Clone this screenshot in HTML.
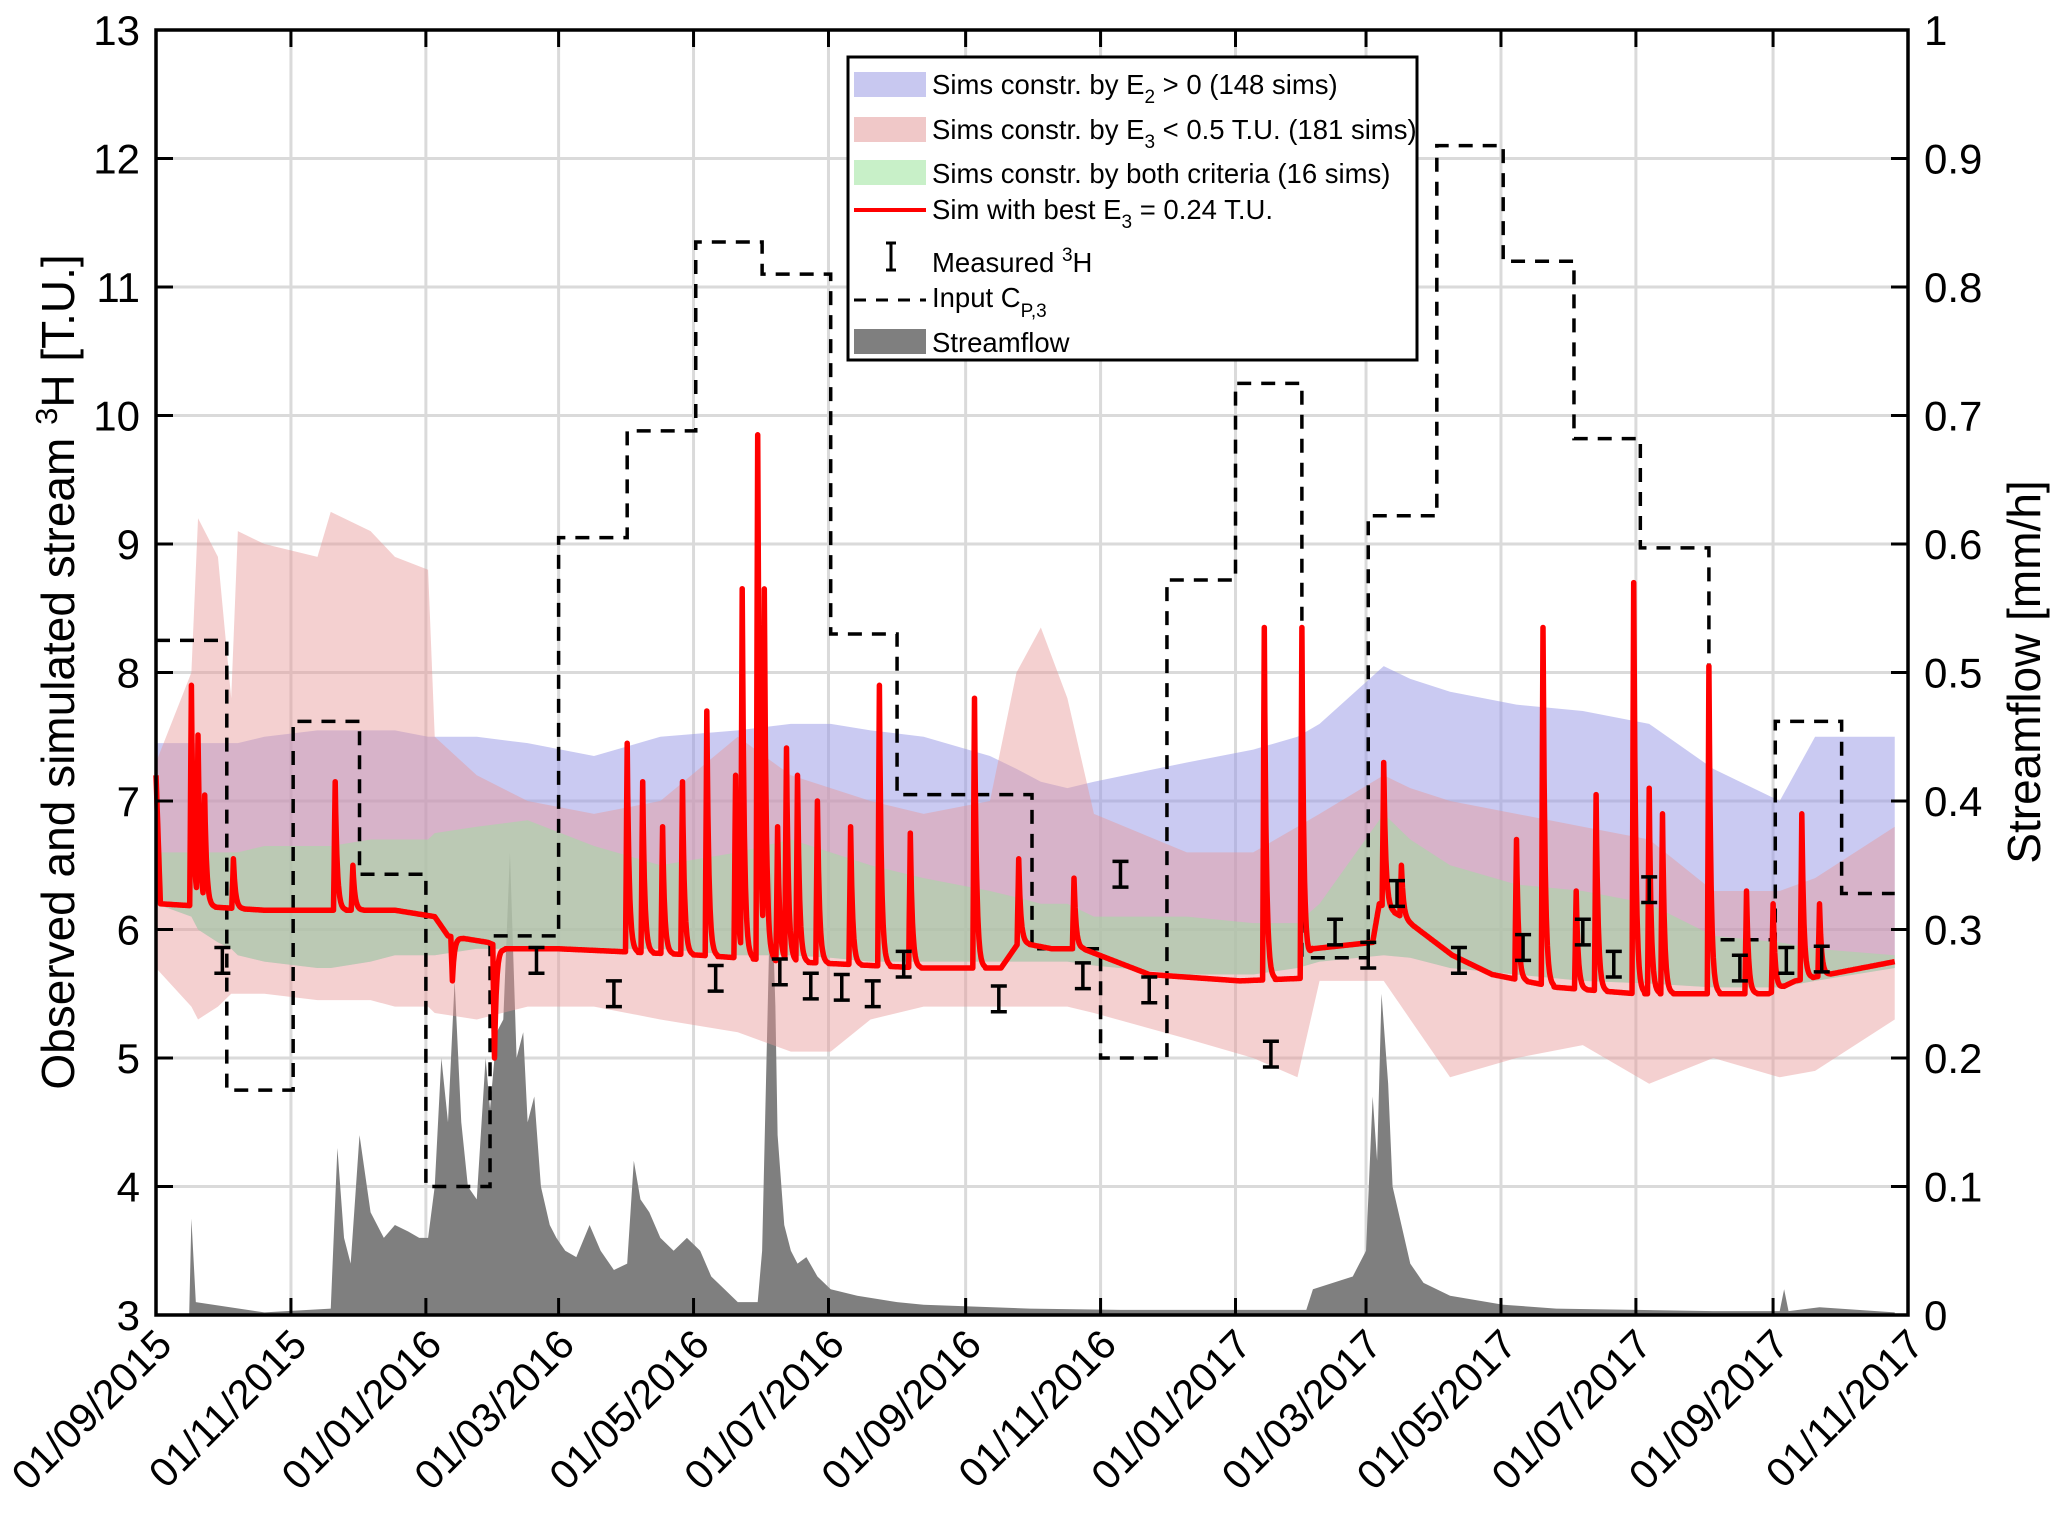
<!DOCTYPE html>
<html><head><meta charset="utf-8"><style>
html,body{margin:0;padding:0;background:#fff}
svg{display:block;font-family:"Liberation Sans",Arial,sans-serif}
</style></head><body>
<svg id="chart" width="2067" height="1528" viewBox="0 0 2067 1528" xmlns="http://www.w3.org/2000/svg">
<g id="grid"></g>
<g id="flow"></g>
<g id="bands"></g>
<g id="input"></g>
<g id="red"></g>
<g id="meas"></g>
<g id="axes"></g>
<text transform="translate(74,672) rotate(-90)" text-anchor="middle" font-size="46">Observed and simulated stream <tspan font-size="31" dy="-17">3</tspan><tspan dy="17">H [T.U.]</tspan></text>
<text transform="translate(2040,672) rotate(-90)" text-anchor="middle" font-size="46">Streamflow [mm/h]</text>
<g id="legend">
<rect x="848" y="57" width="569" height="303" fill="#fff" stroke="#000" stroke-width="3"/>
<rect x="854" y="72" width="72" height="25" fill="#c8c8f0"/>
<text x="932" y="94" font-size="27.5">Sims constr. by E<tspan font-size="19" dy="9">2</tspan><tspan dy="-9"> &gt; 0 (148 sims)</tspan></text>
<rect x="854" y="117" width="72" height="25" fill="#f0c8c8"/>
<text x="932" y="139" font-size="27.5">Sims constr. by E<tspan font-size="19" dy="9">3</tspan><tspan dy="-9"> &lt; 0.5 T.U. (181 sims)</tspan></text>
<rect x="854" y="160" width="72" height="25" fill="#c8f0c8"/>
<text x="932" y="183" font-size="27.5">Sims constr. by both criteria (16 sims)</text>
<line x1="854" y1="210" x2="926" y2="210" stroke="#f00" stroke-width="4"/>
<text x="932" y="219" font-size="27.5">Sim with best E<tspan font-size="19" dy="9">3</tspan><tspan dy="-9"> = 0.24 T.U.</tspan></text>
<path d="M886,243 H896 M891,243 V270 M886,270 H896" stroke="#000" stroke-width="3" fill="none"/>
<text x="932" y="272" font-size="27.5">Measured <tspan font-size="19" dy="-11">3</tspan><tspan dy="11">H</tspan></text>
<line x1="854" y1="300" x2="926" y2="300" stroke="#000" stroke-width="3" stroke-dasharray="12,10"/>
<text x="932" y="307" font-size="27.5">Input C<tspan font-size="19" dy="10">P,3</tspan></text>
<rect x="854" y="329" width="72" height="25" fill="#7f7f7f"/>
<text x="932" y="352" font-size="27.5">Streamflow</text>
</g>
</svg>
<script>
// ---- data (x in days since 01/09/2015) ----
const tickLabels = ["01/09/2015","01/11/2015","01/01/2016","01/03/2016","01/05/2016","01/07/2016","01/09/2016","01/11/2016","01/01/2017","01/03/2017","01/05/2017","01/07/2017","01/09/2017","01/11/2017"];
const tickDays = [0,61,122,182,243,304,366,427,488,547,608,669,731,792];
const yTicks = [3,4,5,6,7,8,9,10,11,12,13];
const y2Ticks = [0,0.1,0.2,0.3,0.4,0.5,0.6,0.7,0.8,0.9,1];
const bandDays = [0,16,19,28,34,37,49,73,79,97,108,123,126,145,168,198,228,263,287,305,323,347,377,389,400,412,424,466,496,516,526,555,567,585,615,645,675,704,734,750,786];
const pinkUpper = [7.3,8.0,9.2,8.9,7.8,9.1,9.0,8.9,9.25,9.1,8.9,8.8,7.5,7.2,7.0,6.9,7.0,7.5,7.2,7.1,7.0,6.9,7.0,8.0,8.35,7.8,6.9,6.6,6.6,6.8,6.9,7.2,7.1,7.0,6.9,6.8,6.7,6.3,6.3,6.4,6.8];
const pinkLower = [5.7,5.4,5.3,5.4,5.5,5.5,5.5,5.45,5.45,5.45,5.4,5.4,5.35,5.3,5.4,5.4,5.3,5.2,5.05,5.05,5.3,5.4,5.4,5.4,5.4,5.4,5.35,5.15,5.0,4.85,5.6,5.6,5.3,4.85,5.0,5.1,4.8,5.0,4.85,4.9,5.3];
const blueUpper = [7.45,7.45,7.45,7.45,7.45,7.45,7.5,7.55,7.55,7.55,7.55,7.5,7.5,7.5,7.45,7.35,7.5,7.55,7.6,7.6,7.55,7.5,7.35,7.25,7.15,7.1,7.15,7.3,7.4,7.5,7.6,8.05,7.95,7.85,7.75,7.7,7.6,7.25,7.0,7.5,7.5];
const greenUpper = [6.6,6.6,6.6,6.6,6.6,6.6,6.65,6.65,6.65,6.7,6.7,6.7,6.75,6.8,6.85,6.65,6.5,6.6,6.7,6.6,6.5,6.4,6.3,6.25,6.2,6.2,6.1,6.1,6.05,6.05,6.2,6.9,6.7,6.5,6.35,6.3,6.2,5.95,5.9,5.85,5.8];
const greenLower = [6.2,6.1,6.0,5.9,5.85,5.8,5.75,5.7,5.7,5.75,5.8,5.8,5.8,5.85,5.85,5.85,5.85,5.8,5.8,5.78,5.75,5.75,5.75,5.75,5.75,5.75,5.72,5.65,5.65,5.7,5.75,5.8,5.78,5.7,5.65,5.6,5.58,5.55,5.55,5.6,5.7];
const inputDays = [0,32,62,92,122,151,182,213,244,274,305,335,396,427,457,488,518,548,579,609,641,671,702,732,762,786];
const inputValues = [8.25,4.75,7.62,6.43,4.0,5.95,9.05,9.88,11.35,11.1,8.3,7.05,5.85,5.0,8.72,10.25,5.78,9.22,12.1,11.2,9.82,8.97,5.92,7.62,6.28];
const measDays = [30,172,207,253,282,296,310,324,338,381,419,436,449,504,533,548,561,589,618,645,659,675,716,737,753];
const measValues = [5.76,5.76,5.5,5.62,5.67,5.56,5.55,5.5,5.73,5.46,5.64,6.43,5.53,5.03,5.98,5.8,6.28,5.76,5.86,5.98,5.73,6.31,5.7,5.76,5.77];
const measErr = 0.1;
const baseDays = [0,2,49,108,126,132,150,157,182,246,287,347,382,390,405,419,449,490,518,523,550,553,563,586,604,633,669,729,741,786];
const baseValues = [7.2,6.2,6.15,6.15,6.1,5.95,5.9,5.85,5.85,5.8,5.75,5.7,5.7,5.9,5.85,5.85,5.65,5.6,5.62,5.85,5.9,6.2,6.1,5.8,5.65,5.55,5.5,5.5,5.6,5.75];
const spikeDays = [16,19,22,35,81,89,134,153,213,220,229,238,249,262,265,272,275,281,285,290,299,314,327,341,370,390,415,501,518,555,563,615,627,642,651,668,675,681,702,719,731,744,752];
const spikePeaks = [7.9,7.45,7.0,6.55,7.15,6.5,5.6,5.0,7.45,7.15,6.8,7.15,7.7,7.2,8.6,9.85,8.5,6.8,7.4,7.2,7.0,6.8,7.9,6.75,7.8,6.55,6.4,8.35,8.35,7.3,6.5,6.7,8.35,6.3,7.05,8.7,7.1,6.9,8.05,6.3,6.2,6.9,6.2];
const flowDays = [0,15,16,18,49,79,82,85,88,92,97,103,108,114,119,123,126,129,132,135,138,141,145,149,151,154,157,160,163,166,168,171,174,178,181,185,190,196,201,207,213,216,219,223,228,234,240,246,251,257,263,272,274,276,278,280,281,284,287,290,294,299,305,317,335,347,395,436,520,523,532,541,547,550,552,554,557,559,563,567,573,585,609,633,704,734,736,738,752,786];
const flowValues = [0,0,0.075,0.01,0.002,0.005,0.13,0.06,0.04,0.14,0.08,0.06,0.07,0.065,0.06,0.06,0.1,0.2,0.15,0.26,0.15,0.1,0.09,0.2,0.16,0.22,0.23,0.36,0.2,0.22,0.15,0.17,0.1,0.07,0.06,0.05,0.045,0.07,0.05,0.035,0.04,0.12,0.09,0.08,0.06,0.05,0.06,0.05,0.03,0.02,0.01,0.01,0.05,0.2,0.35,0.24,0.14,0.07,0.05,0.04,0.045,0.03,0.02,0.015,0.01,0.008,0.005,0.004,0.004,0.02,0.025,0.03,0.05,0.17,0.12,0.25,0.18,0.1,0.07,0.04,0.025,0.015,0.008,0.005,0.003,0.003,0.02,0.003,0.006,0.002];

// ---- axes ----
const L=156,R=1908,T=30,B=1315,TOTAL=792;
const X=d=>L+d*(R-L)/TOTAL;
const Y=v=>T+(13-v)*(B-T)/10;
const Y2=f=>B-f*(B-T);
const NS="http://www.w3.org/2000/svg";
function mk(parent,tag,attrs){const e=document.createElementNS(NS,tag);for(const k in attrs)e.setAttribute(k,attrs[k]);document.getElementById(parent).appendChild(e);return e;}

tickDays.forEach((d,i)=>{
  const g=mk('grid','line',{x1:X(d),x2:X(d),y1:T,y2:B,stroke:'#dadada','stroke-width':3});
  
  
  const t=mk('axes','line',{x1:X(d),x2:X(d),y1:B,y2:B-17,stroke:'#000','stroke-width':3});
  
  
  const t2=mk('axes','line',{x1:X(d),x2:X(d),y1:T,y2:T+17,stroke:'#000','stroke-width':3});
  
  
  const lb=mk('axes','text',{x:0,y:0,'font-size':41,'text-anchor':'end',transform:`translate(${X(d)+18},${B+32}) rotate(-45)`});
  lb.textContent=tickLabels[i];
  
  
});
yTicks.forEach((v,i)=>{
  const y=Y(v);
  const g=mk('grid','line',{x1:L,x2:R,y1:y,y2:y,stroke:'#dadada','stroke-width':3});
  
  
  const t=mk('axes','line',{x1:L,x2:L+17,y1:y,y2:y,stroke:'#000','stroke-width':3});
  
  
  const lb=mk('axes','text',{x:L-16,y:y+15,'font-size':42,'text-anchor':'end'});
  lb.textContent=v;
  
  
});
y2Ticks.forEach(f=>{
  const y=Y2(f);
  const t=mk('axes','line',{x1:R-17,x2:R,y1:y,y2:y,stroke:'#000','stroke-width':3});
  
  
  const lb=mk('axes','text',{x:R+16,y:y+15,'font-size':42,'text-anchor':'start'});
  lb.textContent=String(f);
  
  
});
const frame=mk('axes','rect',{x:L,y:T,width:R-L,height:B-T,fill:'none',stroke:'#000','stroke-width':3.5});



// ---- streamflow ----
let fp=`M${X(flowDays[0])},${Y2(0)}`;
flowDays.forEach((d,i)=>{fp+=` L${X(d)},${Y2(flowValues[i])}`;});
fp+=` L${X(flowDays[flowDays.length-1])},${Y2(0)} Z`;
const fl=mk('flow','path',{d:fp,fill:'#7f7f7f'});



// ---- bands ----
function band(up,lo,fill,op,name){
  let p='';
  bandDays.forEach((d,i)=>{p+=(i?' L':'M')+X(d)+','+Y(up[i]);});
  for(let i=bandDays.length-1;i>=0;i--)p+=' L'+X(bandDays[i])+','+Y(lo[i]);
  const e=mk('bands','path',{d:p+' Z',fill:fill,'fill-opacity':op});
  
  
}
band(blueUpper,greenLower,'#9696e6',0.5,'band-e2');
band(pinkUpper,pinkLower,'#e69696',0.45,'band-e3');
band(greenUpper,greenLower,'#a0e0a0',0.5,'band-both');

// ---- input step ----
let ip='';
inputValues.forEach((v,i)=>{ip+=(i?' L':'M')+X(inputDays[i])+','+Y(v)+' L'+X(inputDays[i+1])+','+Y(v);});
const inp=mk('input','path',{d:ip,fill:'none',stroke:'#000','stroke-width':3.5,'stroke-dasharray':'14,10'});



// ---- best sim ----
function base(d){for(let i=1;i<baseDays.length;i++){if(d<=baseDays[i]){const t=(d-baseDays[i-1])/(baseDays[i]-baseDays[i-1]);return baseValues[i-1]+t*(baseValues[i]-baseValues[i-1]);}}return baseValues[baseValues.length-1];}
let rp='';
for(let d=0;d<=786;d+=0.25){
  let v=base(d);
  spikeDays.forEach((s,i)=>{const a=spikePeaks[i]-base(s);let f=0;
    if(d>=s-0.75&&d<=s)f=1-(s-d)/0.75; else if(d>s&&d<s+5)f=Math.exp(-(d-s)*1.1);
    v+=a*f;});
  rp+=(d?' L':'M')+X(d).toFixed(1)+','+Y(v).toFixed(1);
}
const rl=mk('red','path',{d:rp,fill:'none',stroke:'#f00','stroke-width':5.5,'stroke-linejoin':'round'});



// ---- measured ----
measDays.forEach((d,i)=>{
  const x=X(d),y1=Y(measValues[i]+measErr),y2=Y(measValues[i]-measErr);
  const e=mk('meas','path',{d:`M${x-8},${y1} H${x+8} M${x},${y1} V${y2} M${x-8},${y2} H${x+8}`,stroke:'#000','stroke-width':3.5,fill:'none'});
  
  
});
</script>
</body></html>
